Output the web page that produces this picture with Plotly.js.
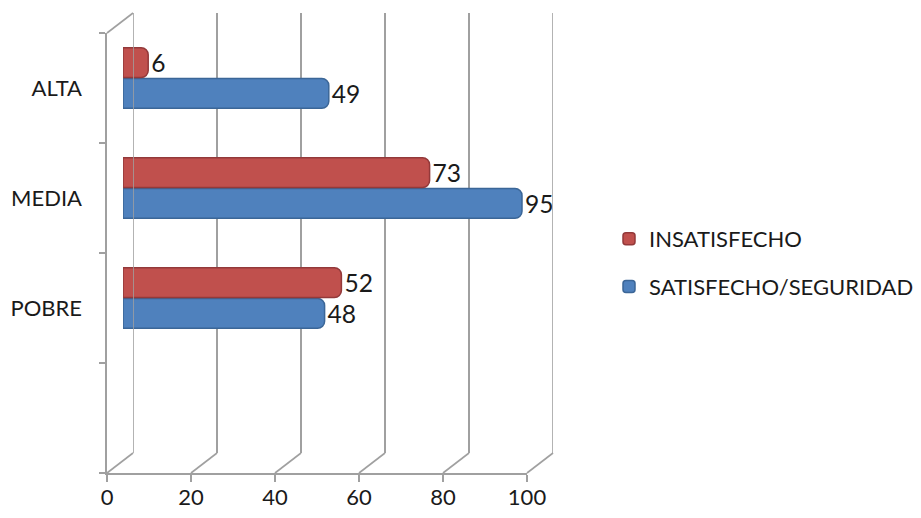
<!DOCTYPE html>
<html><head><meta charset="utf-8">
<script src="https://cdn.plot.ly/plotly-3.0.1.min.js"></script>
<style>html,body{margin:0;padding:0;background:#fff}#chart{width:921px;height:518px}</style>
</head><body><div id="chart"></div>
<script>
// ---- data ----
const categories = ['POBRE', 'MEDIA', 'ALTA'];
const seriesNames = ['SATISFECHO/SEGURIDAD', 'INSATISFECHO'];
const satisfecho = [48, 95, 49];
const insatisfecho = [52, 73, 6];
const xTicks = [0, 20, 40, 60, 80, 100];

// ---- geometry (pixels) ----
const W = 921, H = 518;
const FRONT = {x0: 107, x1: 527, y0: 33, y1: 473};
const DEPTH = {dx: 26, dy: -20};
const MID = {dx: 16, dy: -10};
const px = v => v / W, py = v => 1 - v / H;
const dom = (o) => ({x: [px(o.x0 + o.dx), px(o.x1 + o.dx)], y: [py(o.y1 + o.dy), py(o.y0 + o.dy)]});
const back = dom({...FRONT, ...DEPTH});
const mid = dom({...FRONT, ...MID});
const front = dom({...FRONT, dx: 0, dy: 0});

const FONT = 'Lato, "Open Sans", sans-serif';
const GRID = '#a0a0a0';
const RED = '#C0504D', BLUE = '#4F81BD';

const traces = [
  // empty carriers so the back wall and front frame axes get drawn
  {type: 'scatter', x: [], y: [], xaxis: 'x', yaxis: 'y', showlegend: false, hoverinfo: 'none'},
  {type: 'bar', orientation: 'h', name: seriesNames[0], y: categories, x: satisfecho,
   xaxis: 'x2', yaxis: 'y2', legendgroup: 'a', legendrank: 2,
   marker: {color: BLUE, line: {color: '#3B6697', width: 1.5}},
   text: satisfecho.map(String), textposition: 'outside', cliponaxis: false,
   textfont: {family: FONT, size: 28, color: '#1a1a1a'}, hoverinfo: 'none'},
  {type: 'bar', orientation: 'h', name: seriesNames[1], y: categories, x: insatisfecho,
   xaxis: 'x2', yaxis: 'y2', legendgroup: 'b', legendrank: 1,
   marker: {color: RED, line: {color: '#93393A', width: 1.5}},
   text: insatisfecho.map(String), textposition: 'outside', cliponaxis: false,
   textfont: {family: FONT, size: 28, color: '#1a1a1a'}, hoverinfo: 'none'},
  {type: 'scatter', x: [], y: [], xaxis: 'x3', yaxis: 'y3', showlegend: false, hoverinfo: 'none'}
];

const shapes = [];
const line = {color: GRID, width: 1.6};
const sx = (FRONT.x1 - FRONT.x0) / 100;
xTicks.forEach(v => {
  const x = FRONT.x0 + v * sx;
  shapes.push({type: 'line', xref: 'paper', yref: 'paper', x0: px(x), y0: py(FRONT.y1),
    x1: px(x + DEPTH.dx), y1: py(FRONT.y1 + DEPTH.dy), line});
});
shapes.push({type: 'line', xref: 'paper', yref: 'paper', x0: px(FRONT.x0), y0: py(FRONT.y0),
  x1: px(FRONT.x0 + DEPTH.dx), y1: py(FRONT.y0 + DEPTH.dy), line});
// back wall edge verticals at both ends of the value range
[xTicks[0], xTicks[xTicks.length - 1]].forEach(v => {
  shapes.push({type: 'line', xref: 'x', yref: 'y domain', x0: v, x1: v, y0: 0, y1: 1, line});
});

const layout = {
  width: W, height: H, margin: {l: 0, r: 0, t: 0, b: 0},
  paper_bgcolor: '#fff', plot_bgcolor: 'rgba(0,0,0,0)',
  font: {family: FONT, color: '#1a1a1a'},
  showlegend: true,
  barmode: 'group', bargap: 0.44, bargroupgap: 0.03, barcornerradius: 7,
  xaxis: {domain: back.x, range: [0, 100], anchor: 'y', tickvals: xTicks, showgrid: true,
    gridcolor: GRID, gridwidth: 1.6, zeroline: false, showticklabels: false, ticks: '', showline: false},
  yaxis: {domain: back.y, range: [0, 1], anchor: 'x', showgrid: false, zeroline: false,
    showticklabels: false, showline: false},
  xaxis2: {domain: mid.x, range: [0, 100], anchor: 'y2', showgrid: false, zeroline: false,
    showticklabels: false},
  yaxis2: {domain: mid.y, range: [-1.5, 2.5], anchor: 'x2', type: 'category',
    categoryorder: 'array', categoryarray: categories, showgrid: false, showticklabels: false},
  xaxis3: {domain: front.x, range: [0, 100], anchor: 'y3', tickvals: xTicks, ticks: 'outside',
    ticklen: 7, tickwidth: 1.6, tickcolor: GRID, showline: true, linecolor: GRID, linewidth: 1.6,
    showgrid: false, zeroline: false, tickfont: {size: 22, family: FONT, color: '#1a1a1a'},
    ticklabelstandoff: -3},
  yaxis3: {domain: front.y, range: [-1.5, 2.5], anchor: 'x3', tickvals: [0, 1, 2],
    ticktext: categories, ticks: '', showline: true, linecolor: GRID, linewidth: 1.6,
    showgrid: false, zeroline: false, tickfont: {size: 22, family: FONT, color: '#1a1a1a'},
    ticklabelstandoff: 19,
    minor: {tickvals: [-1.5, -0.5, 0.5, 1.5, 2.5], ticks: 'outside', ticklen: 6,
      tickcolor: GRID, tickwidth: 1.6, showgrid: false}},
  legend: {x: px(609), y: py(218), xanchor: 'left', yanchor: 'top', traceorder: 'grouped',
    font: {size: 22, family: FONT, color: '#1a1a1a'}, tracegroupgap: 16, itemwidth: 30,
    bgcolor: 'rgba(0,0,0,0)'},
  shapes
};
Plotly.newPlot('chart', traces, layout, {staticPlot: true});
</script></body></html>
